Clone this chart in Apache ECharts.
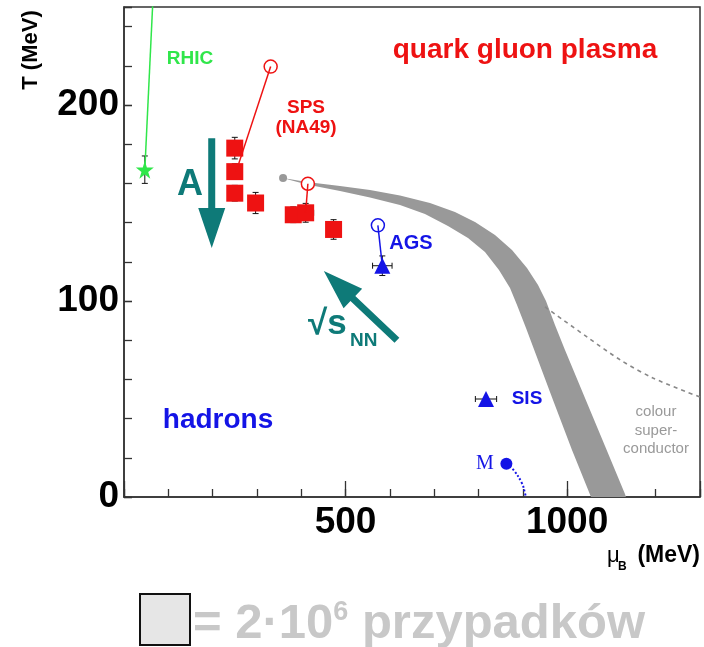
<!DOCTYPE html>
<html>
<head>
<meta charset="utf-8">
<script src="https://cdn.jsdelivr.net/npm/echarts@6/dist/echarts.min.js"></script>
<style>
  html, body { margin: 0; padding: 0; background: #fff; }
  #chart { width: 704px; height: 647px; }
</style>
</head>
<body>
<div id="chart"></div>
<script>
// Phase diagram of strongly interacting matter: T vs baryon chemical potential (both in MeV)

// Axis ranges and tick steps
const muRange = [0, 1300];
const tRange = [0, 250];
const muMinorStep = 100, muMajorStep = 500;
const tMinorStep = 20, tMajorStep = 100;
const muTickLabels = [500, 1000];
const tTickLabels = [0, 100, 200];

// SPS (NA49) freeze-out points
const spsMuB   = [250, 250, 250, 297, 382, 410, 473];
const spsT     = [178, 166, 155, 150, 144, 145, 136.5];
const spsTErr  = [5.5, 4, 4, 5.4, 4, 4.8, 5];
const spsMuErr = [0, 0, 0, 0, 0, 18, 0];

// AGS and SIS points
const triMuB   = [583, 817];
const triT     = [118, 50];
const triMuErr = [22, 24];
const triTErr  = [5, 0];

// RHIC point
const rhicMuB = [47];
const rhicT = [167];
const rhicTErr = [7];

// Open circles (model predictions) and their connectors
const spsOpenMuB = [331, 415];
const spsOpenT   = [219.6, 159.8];
const agsOpenMuB = [573];
const agsOpenT   = [138.6];
const rhicLineMuB = [47, 67];
const rhicLineT   = [167, 262];
const spsLine1MuB = [253, 331];
const spsLine1T   = [166, 219.6];
const spsLine2MuB = [410, 415];
const spsLine2T   = [145, 159.8];
const agsLineMuB  = [583, 573];
const agsLineT    = [118, 138.6];

// Nuclear matter ground state and its curve
const nucMuB = [863];
const nucT = [17];
const nucCurveMuB = [863, 879, 898, 905, 907];
const nucCurveT   = [17, 13.8, 7.1, 2, 0];

// Critical end point and the transition band (outer edge top-down, inner edge bottom-up)
const cepMuB = [359];
const cepT = [162.8];
const bandOuterMuB = [358.8, 413, 487.5, 555.2, 622.9, 690.6, 747, 792.2, 837.3, 875.7, 909.5, 934.4, 952.4, 972.7, 995.3, 1040.4, 1085.6, 1130.7, 1132.8];
const bandOuterT   = [162.8, 160.7, 158.7, 156.6, 153.8, 150, 145.4, 140.3, 133.7, 126, 116.8, 108.2, 100, 87.8, 75, 50.5, 26, 1.5, 0];
const bandInnerMuB = [1054, 1011.1, 968.2, 927.6, 907.3, 887, 871.2, 846.3, 814.7, 776.4, 731.2, 679.3, 622.9, 555.2, 487.5, 413, 374.6];
const bandInnerT   = [0, 24, 49.5, 74, 86.2, 98, 106.6, 115.8, 125, 132.1, 138.3, 144.4, 149, 152.8, 156.1, 159.4, 161.7];

// Colour superconductor boundary (dashed)
const cscMuB = [950, 1046, 1121, 1195, 1300];
const cscT   = [97, 81.5, 69.8, 60.6, 51];

// Trend arrows: [tail mu, tail T, tip mu, tip T]
const arrowA    = [198, 183, 198, 127];
const arrowSqrt = [616, 80, 451, 115.3];

const RED = '#ee1212', BLUE = '#1414e6', GREEN = '#30e64a', TEAL = '#0e7a78', GRAY = '#999999';
const SANS = "'Liberation Sans', Arial, sans-serif";

const pairs = (xs, ys) => xs.map((x, i) => [x, ys[i]]);

function renderErr(params, api) {
  const x = api.value(0), y = api.value(1), ex = api.value(2), ey = api.value(3);
  const c = api.coord([x, y]);
  const st = { stroke: '#111', lineWidth: 1 };
  const kids = [];
  const cap = 3;
  if (ey > 0) {
    const t = api.coord([x, y + ey])[1], b = api.coord([x, y - ey])[1];
    kids.push({ type: 'line', shape: { x1: c[0], y1: t, x2: c[0], y2: b }, style: st });
    kids.push({ type: 'line', shape: { x1: c[0] - cap, y1: t, x2: c[0] + cap, y2: t }, style: st });
    kids.push({ type: 'line', shape: { x1: c[0] - cap, y1: b, x2: c[0] + cap, y2: b }, style: st });
  }
  if (ex > 0) {
    const l = api.coord([x - ex, y])[0], r = api.coord([x + ex, y])[0];
    kids.push({ type: 'line', shape: { x1: l, y1: c[1], x2: r, y2: c[1] }, style: st });
    kids.push({ type: 'line', shape: { x1: l, y1: c[1] - cap, x2: l, y2: c[1] + cap }, style: st });
    kids.push({ type: 'line', shape: { x1: r, y1: c[1] - cap, x2: r, y2: c[1] + cap }, style: st });
  }
  return { type: 'group', children: kids };
}

function renderArrow(params, api) {
  const p0 = api.coord([api.value(0), api.value(1)]);
  const p1 = api.coord([api.value(2), api.value(3)]);
  const dx = p1[0] - p0[0], dy = p1[1] - p0[1];
  const len = Math.hypot(dx, dy);
  const ux = dx / len, uy = dy / len, nx = -uy, ny = ux;
  const hl = 40, hw = 13.5, sw = 3.5;
  const bx = p1[0] - ux * hl, by = p1[1] - uy * hl;
  const pts = [
    [p0[0] + nx * sw, p0[1] + ny * sw],
    [bx + nx * sw, by + ny * sw],
    [bx + nx * hw, by + ny * hw],
    [p1[0], p1[1]],
    [bx - nx * hw, by - ny * hw],
    [bx - nx * sw, by - ny * sw],
    [p0[0] - nx * sw, p0[1] - ny * sw]
  ];
  return { type: 'polygon', shape: { points: pts }, style: { fill: TEAL } };
}

function renderBand(params, api) {
  if (params.dataIndex !== 0) return null;
  const pts = [];
  bandOuterMuB.forEach((m, i) => pts.push(api.coord([m, bandOuterT[i]])));
  bandInnerMuB.forEach((m, i) => pts.push(api.coord([m, bandInnerT[i]])));
  return { type: 'polygon', shape: { points: pts }, style: { fill: GRAY } };
}

const axisLineStyle = { color: '#333', width: 1.5 };
const tickStyle = { color: '#333', width: 1.3 };

function connector(xs, ys, color) {
  return {
    type: 'line', data: pairs(xs, ys), symbol: 'none', silent: true,
    lineStyle: { color: color, width: 1.5 }
  };
}

const chart = echarts.init(document.getElementById('chart'), null, { renderer: 'canvas' });

chart.setOption({
  animation: false,
  backgroundColor: '#fff',
  grid: { left: 124, right: 4, top: 7, bottom: 150, show: true, borderColor: '#333', borderWidth: 1.5 },
  xAxis: [
    {
      type: 'value', min: muRange[0], max: muRange[1], interval: muMinorStep, position: 'bottom',
      axisLine: { onZero: false, lineStyle: axisLineStyle },
      axisTick: { inside: true, length: 8, lineStyle: tickStyle },
      axisLabel: { show: false }, splitLine: { show: false }
    },
    {
      type: 'value', min: muRange[0], max: muRange[1], interval: muMajorStep, position: 'bottom',
      axisLine: { show: false, onZero: false },
      axisTick: { inside: true, length: 16, lineStyle: tickStyle },
      axisLabel: {
        margin: 7, color: '#000', fontFamily: SANS, fontWeight: 'bold', fontSize: 37,
        formatter: v => (muTickLabels.indexOf(v) >= 0 ? String(v) : '')
      },
      splitLine: { show: false }
    }
  ],
  yAxis: [
    {
      type: 'value', min: tRange[0], max: tRange[1], interval: tMinorStep, position: 'left',
      axisLine: { onZero: false, lineStyle: axisLineStyle },
      axisTick: { inside: true, length: 8, lineStyle: tickStyle },
      axisLabel: { show: false }, splitLine: { show: false }
    },
    {
      type: 'value', min: tRange[0], max: tRange[1], interval: tMajorStep, position: 'left',
      axisLine: { show: false, onZero: false },
      axisTick: { inside: true, length: 8, lineStyle: tickStyle },
      axisLabel: {
        margin: 5, color: '#000', fontFamily: SANS, fontWeight: 'bold', fontSize: 37,
        padding: [6, 0, 0, 0],
        formatter: v => (tTickLabels.indexOf(v) >= 0 ? String(v) : '')
      },
      splitLine: { show: false }
    }
  ],
  series: [
    // transition band
    {
      type: 'custom', renderItem: renderBand, silent: true,
      data: pairs(bandOuterMuB, bandOuterT), encode: { x: 0, y: 1 }
    },
    // colour superconductor boundary
    {
      type: 'line', data: pairs(cscMuB, cscT), symbol: 'none', smooth: 0.3, silent: true,
      lineStyle: { color: '#888', width: 1.6, type: [4, 4] }
    },
    // nuclear matter curve
    {
      type: 'line', data: pairs(nucCurveMuB, nucCurveT), symbol: 'none', smooth: 0.4, silent: true,
      lineStyle: { color: BLUE, width: 2, type: [2, 2] }
    },
    connector(rhicLineMuB, rhicLineT, GREEN),
    connector(spsLine1MuB, spsLine1T, RED),
    connector(spsLine2MuB, spsLine2T, RED),
    connector(agsLineMuB, agsLineT, BLUE),
    // error bars
    {
      type: 'custom', renderItem: renderErr, silent: true, encode: { x: 0, y: 1 },
      data: spsMuB.map((m, i) => [m, spsT[i], spsMuErr[i], spsTErr[i]])
        .concat(triMuB.map((m, i) => [m, triT[i], triMuErr[i], triTErr[i]]))
        .concat(rhicMuB.map((m, i) => [m, rhicT[i], 0, rhicTErr[i]]))
    },
    // SPS squares
    {
      type: 'scatter', data: pairs(spsMuB, spsT), symbol: 'rect', symbolSize: 17, silent: true,
      itemStyle: { color: RED, opacity: 1 }
    },
    // AGS / SIS triangles
    {
      type: 'scatter', data: pairs(triMuB, triT), symbol: 'triangle', symbolSize: 16, silent: true,
      itemStyle: { color: BLUE, opacity: 1 }
    },
    // RHIC star
    {
      type: 'scatter', data: pairs(rhicMuB, rhicT), silent: true,
      symbol: 'path://M50,0 L61,35 L98,35 L68,57 L79,91 L50,70 L21,91 L32,57 L2,35 L39,35 Z',
      symbolSize: 18, itemStyle: { color: GREEN, opacity: 1 }
    },
    // open circles
    {
      type: 'scatter', data: pairs(spsOpenMuB, spsOpenT), symbol: 'circle', symbolSize: 13, silent: true,
      itemStyle: { color: '#fff', borderColor: RED, borderWidth: 1.5, opacity: 1 }
    },
    {
      type: 'scatter', data: pairs(agsOpenMuB, agsOpenT), symbol: 'circle', symbolSize: 13, silent: true,
      itemStyle: { color: '#fff', borderColor: BLUE, borderWidth: 1.5, opacity: 1 }
    },
    // nuclear matter point
    {
      type: 'scatter', data: pairs(nucMuB, nucT), symbol: 'circle', symbolSize: 12, silent: true,
      itemStyle: { color: BLUE, opacity: 1 }
    },
    // critical end point
    {
      type: 'scatter', data: pairs(cepMuB, cepT), symbol: 'circle', symbolSize: 8, silent: true,
      itemStyle: { color: GRAY, opacity: 1 }
    },
    // trend arrows
    {
      type: 'custom', renderItem: renderArrow, silent: true, encode: { x: [0, 2], y: [1, 3] },
      data: [arrowA, arrowSqrt]
    }
  ],
  graphic: [
    { type: 'text', x: 31, y: 50, rotation: Math.PI / 2,
      style: { text: 'T (MeV)', font: 'bold 22px ' + SANS, fill: '#000', align: 'center', verticalAlign: 'middle' } },
    { type: 'text', x: 607, y: 556,
      style: { text: 'μ', font: '22px ' + SANS, fill: '#000', align: 'left', verticalAlign: 'middle' } },
    { type: 'text', x: 618, y: 567,
      style: { text: 'B', font: 'bold 12px ' + SANS, fill: '#000', align: 'left', verticalAlign: 'middle' } },
    { type: 'text', x: 700, y: 556,
      style: { text: '(MeV)', font: 'bold 23px ' + SANS, fill: '#000', align: 'right', verticalAlign: 'middle' } },

    { type: 'text', x: 190, y: 59,
      style: { text: 'RHIC', font: 'bold 19px ' + SANS, fill: GREEN, align: 'center', verticalAlign: 'middle' } },
    { type: 'text', x: 525, y: 50,
      style: { text: 'quark gluon plasma', font: 'bold 28px ' + SANS, fill: RED, align: 'center', verticalAlign: 'middle' } },
    { type: 'text', x: 306, y: 108,
      style: { text: 'SPS', font: 'bold 19px ' + SANS, fill: RED, align: 'center', verticalAlign: 'middle' } },
    { type: 'text', x: 306, y: 128,
      style: { text: '(NA49)', font: 'bold 19px ' + SANS, fill: RED, align: 'center', verticalAlign: 'middle' } },
    { type: 'text', x: 411, y: 243,
      style: { text: 'AGS', font: 'bold 20px ' + SANS, fill: BLUE, align: 'center', verticalAlign: 'middle' } },
    { type: 'text', x: 527, y: 399,
      style: { text: 'SIS', font: 'bold 19px ' + SANS, fill: BLUE, align: 'center', verticalAlign: 'middle' } },
    { type: 'text', x: 485, y: 464,
      style: { text: 'M', font: "20px 'Liberation Serif', serif", fill: BLUE, align: 'center', verticalAlign: 'middle' } },
    { type: 'text', x: 218, y: 420,
      style: { text: 'hadrons', font: 'bold 28px ' + SANS, fill: BLUE, align: 'center', verticalAlign: 'middle' } },
    { type: 'text', x: 656, y: 412,
      style: { text: 'colour', font: '15px ' + SANS, fill: GRAY, align: 'center', verticalAlign: 'middle' } },
    { type: 'text', x: 656, y: 431,
      style: { text: 'super-', font: '15px ' + SANS, fill: GRAY, align: 'center', verticalAlign: 'middle' } },
    { type: 'text', x: 656, y: 449,
      style: { text: 'conductor', font: '15px ' + SANS, fill: GRAY, align: 'center', verticalAlign: 'middle' } },

    { type: 'text', x: 190, y: 185,
      style: { text: 'A', font: 'bold 36px ' + SANS, fill: TEAL, align: 'center', verticalAlign: 'middle' } },
    { type: 'text', x: 308, y: 324,
      style: { text: '√s', font: 'bold 35px ' + SANS, fill: TEAL, align: 'left', verticalAlign: 'middle' } },
    { type: 'text', x: 350, y: 341,
      style: { text: 'NN', font: 'bold 19px ' + SANS, fill: TEAL, align: 'left', verticalAlign: 'middle' } },

    { type: 'rect', shape: { x: 140, y: 594, width: 50, height: 51 },
      style: { fill: '#e6e6e6', stroke: '#111', lineWidth: 2 } },
    { type: 'text', x: 193, y: 624,
      style: {
        text: '{a|= 2·10}{s|6}{a| przypadków}', align: 'left', verticalAlign: 'middle',
        rich: {
          a: { font: 'bold 49px ' + SANS, fill: '#c8c8c8', lineHeight: 49 },
          s: { font: 'bold 27px ' + SANS, fill: '#c8c8c8', verticalAlign: 'top', lineHeight: 36 }
        }
      } }
  ]
});
</script>
</body>
</html>
